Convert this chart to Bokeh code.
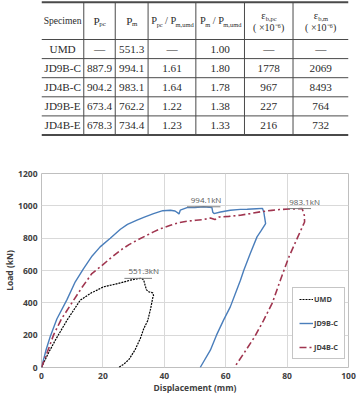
from bokeh.plotting import figure
from bokeh.models import Range1d, Legend, LegendItem, FixedTicker
from bokeh.layouts import column
from bokeh.core.properties import value
from bokeh.embed import file_html
from bokeh.resources import INLINE

# ---------------- table data ----------------
specimens = ["UMD", "JD9B-C", "JD4B-C", "JD9B-E", "JD4B-E"]
p_pc = ["—", "887.9", "904.2", "673.4", "678.3"]
p_m = [551.3, 994.1, 983.1, 762.2, 734.4]
ratio_pc = ["—", "1.61", "1.64", "1.22", "1.23"]
ratio_m = ["1.00", "1.80", "1.78", "1.38", "1.33"]
eps_pc = ["—", "1778", "967", "227", "216"]
eps_m = ["—", "2069", "8493", "764", "732"]

# ---------------- curve data (displacement mm, load kN) ----------------
umd_x = [0, 2.0, 4.5, 8.3, 12.6, 16.4, 17.2, 20.2, 25.7, 28.9, 31.0, 32.2, 32.8, 33.3, 33.8, 34.2,
         35.0, 36.2, 36.5, 36.3, 35.5, 34.6, 33.3, 32.2, 30.5, 28.5, 26.8, 25.1]
umd_y = [0, 80, 169, 292, 416, 464, 470, 499, 523, 540, 548, 551.3, 549, 540, 505, 480,
         468, 462, 445, 437, 360, 290, 240, 180, 110, 50, 20, 0]

jd9_x = [0, 1.5, 2.8, 5.0, 8.3, 11.0, 13.7, 16.5, 19.1, 22.4, 25.7, 28.0, 31.1, 33.5, 36.5, 39.5,
         42.0, 43.5, 44.5, 44.8, 45.2, 47.4, 50.0, 52.8, 55.5, 55.8, 56.2, 58.3, 61.5, 64.8, 67.0,
         70.0, 72.0, 72.4, 73.0, 71.5, 70.2, 68.0, 65.9, 64.8, 63.0, 61.5, 59.3, 57.0, 55.0, 51.7]
jd9_y = [0, 110, 189, 300, 420, 530, 612, 690, 746, 800, 855, 885, 911, 930, 952, 970,
         973, 968, 955, 950, 973, 989, 990, 994.1, 990, 960, 952, 962, 973, 978, 979,
         982, 984, 962, 890, 845, 808, 705, 602, 540, 450, 375, 293, 200, 107, 0]

jd4_x = [0, 2.0, 3.9, 6.5, 9.9, 13.0, 16.4, 19.0, 22.4, 25.7, 28.5, 31.1, 34.0, 36.5, 39.0, 42.0,
         45.0, 47.4, 50.3, 52.8, 55.0, 56.5, 57.9, 61.0, 64.8, 68.0, 72.0, 75.0, 77.5, 80.5, 84.9,
         85.6, 85.7, 83.5, 80.5, 77.8, 75.2, 72.3, 69.4, 66.0, 62.8]
jd4_y = [0, 100, 200, 300, 400, 490, 581, 620, 675, 725, 760, 787, 815, 839, 860, 880,
         897, 905, 911, 915, 925, 915, 931, 935, 942, 952, 965, 972, 977, 980, 983.1,
         942, 900, 808, 680, 540, 400, 290, 189, 90, 0]

peak_labels = ["551.3kN", "994.1kN", "983.1kN"]
peak_vals = p_m[:3]
peak_label_x = [33.3, 53.6, 85.7]
peak_line_x0 = [27.0, 47.4, 80.2]
peak_line_x1 = [36.0, 58.3, 87.8]

x_ticks = [0, 20, 40, 60, 80, 100]
y_ticks = [0, 200, 400, 600, 800, 1000, 1200]

# ---------------- table figure ----------------
W = 358
col_edges = [0, 49.3, 86, 124.3, 180, 236.7, 293.3, 358]
row_edges = [1.7, 39, 58.1, 77.2, 96.3, 115.4, 134.5]
SERIF = "Liberation Serif"
TXT = "#2b2b2b"
LINE = "#4a4a4a"
BODY = 11.2
NB = "\u00a0"

tbl = figure(width=W, height=140, x_range=Range1d(0, W), y_range=Range1d(140, 0),
             output_backend="svg", toolbar_location=None, min_border=0,
             x_axis_location=None, y_axis_location=None)
tbl.grid.visible = False
tbl.outline_line_color = None

hy = row_edges
hw = [2] + [1] * (len(row_edges) - 2) + [2]
tbl.segment(x0=[0] * len(hy), y0=hy, x1=[W] * len(hy), y1=hy, line_color=LINE, line_width=hw)
vx = col_edges[1:-1]
tbl.segment(x0=vx, y0=[row_edges[0]] * len(vx), x1=vx, y1=[row_edges[-1]] * len(vx),
            line_color=LINE, line_width=1)

centers = [(col_edges[i] + col_edges[i + 1]) / 2 for i in range(len(col_edges) - 1)]
row_c = [(row_edges[i] + row_edges[i + 1]) / 2 for i in range(1, len(row_edges) - 1)]

columns_data = [specimens, p_pc, [f"{v:.1f}" for v in p_m], ratio_pc, ratio_m, eps_pc, eps_m]
for j, colvals in enumerate(columns_data):
    tbl.text(x=[centers[j]] * len(colvals), y=row_c, text=colvals, text_align="center",
             text_baseline="middle", text_font=value(SERIF), text_font_size=f"{BODY}px",
             text_color=TXT)

CW = {'P': 0.61, 'p': 0.55, 'c': 0.49, 'm': 0.86, 'u': 0.55, 'd': 0.55, 'b': 0.55,
      ',': 0.28, '/': 0.31, ' ': 0.28, NB: 0.28, 'ε': 0.49}


def tw(s, fs):
    return sum(CW.get(ch, 0.55) for ch in s) * fs


def rich(cx, cy, parts, size=11.2):
    sub = size * 0.62
    total = sum(tw(t, size if k == "n" else sub) for t, k in parts)
    x = cx - total / 2
    for t, k in parts:
        fs = size if k == "n" else sub
        dy = 0 if k == "n" else 3.2
        tbl.text(x=[x], y=[cy + dy], text=[t], text_align="left", text_baseline="middle",
                 text_font=value(SERIF), text_font_size=f"{fs}px", text_color=TXT)
        x += tw(t, fs)


hc = (row_edges[0] + row_edges[1]) / 2
tbl.text(x=[centers[0]], y=[hc], text=["Specimen"], text_align="center", text_baseline="middle",
         text_font=value(SERIF), text_font_size="9.6px", text_color=TXT)
rich(centers[1], hc, [("P", "n"), ("pc", "s")])
rich(centers[2], hc, [("P", "n"), ("m", "s")])
rich(centers[3], hc, [("P", "n"), ("pc", "s"), (NB + "/" + NB + "P", "n"), ("m,umd", "s")], size=10.4)
rich(centers[4], hc, [("P", "n"), ("m", "s"), (NB + "/" + NB + "P", "n"), ("m,umd", "s")], size=10.4)
rich(centers[5], 15, [("ε", "n"), ("b,pc", "s")], size=10.5)
rich(centers[6], 15, [("ε", "n"), ("b,m", "s")], size=10.5)
tbl.text(x=[centers[5], centers[6]], y=[26.5, 26.5], text=["( ×10⁻⁶)", "( ×10⁻⁶)"],
         text_align="center", text_baseline="middle", text_font=value(SERIF),
         text_font_size="10px", text_color=TXT)

# ---------------- chart figure ----------------
FONT = "Open Sans"
ch = figure(width=W, height=256, x_range=Range1d(0, 100), y_range=Range1d(0, 1200),
            output_backend="svg", toolbar_location=None,
            min_border_left=41, min_border_right=10, min_border_top=33, min_border_bottom=29)
ch.xaxis.ticker = FixedTicker(ticks=x_ticks)
ch.yaxis.ticker = FixedTicker(ticks=y_ticks)
ch.xaxis.axis_label = "Displacement (mm)"
ch.yaxis.axis_label = "Load (kN)"
ch.axis.axis_line_color = None
ch.axis.major_tick_line_color = None
ch.axis.minor_tick_line_color = None
ch.axis.major_tick_out = 0
ch.axis.major_tick_in = 0
ch.axis.minor_tick_out = 0
ch.axis.minor_tick_in = 0
ch.axis.major_label_text_font = FONT
ch.axis.major_label_text_font_style = "bold"
ch.axis.major_label_text_font_size = "8.5px"
ch.axis.major_label_text_color = "#404040"
ch.axis.axis_label_text_font = FONT
ch.axis.axis_label_text_font_style = "bold"
ch.axis.axis_label_text_font_size = "8.5px"
ch.axis.axis_label_text_color = "#404040"
ch.xaxis.major_label_standoff = 5
ch.yaxis.major_label_standoff = 4
ch.axis.axis_label_standoff = 0
ch.grid.grid_line_color = "#D9D9D9"
ch.outline_line_color = "#BFBFBF"

r_umd = ch.line(umd_x, umd_y, line_color="black", line_width=1.2, line_dash="2 1")
r_jd9 = ch.line(jd9_x, jd9_y, line_color="#4A7EBB", line_width=1.4)
r_jd4 = ch.line(jd4_x, jd4_y, line_color="#A0354F", line_width=1.6, line_dash="7 3 2 3")

ch.segment(x0=peak_line_x0, y0=peak_vals, x1=peak_line_x1, y1=peak_vals,
           line_color="#7f7f7f", line_width=1)
ch.text(x=peak_label_x, y=peak_vals, text=peak_labels, text_align="center",
        text_baseline="bottom", y_offset=-2, text_font=value(FONT), text_font_size="8px",
        text_color="#595959")

legend = Legend(items=[LegendItem(label="UMD", renderers=[r_umd]),
                       LegendItem(label="JD9B-C", renderers=[r_jd9]),
                       LegendItem(label="JD4B-C", renderers=[r_jd4])],
                location=(251, 8), margin=0, padding=6, spacing=14,
                label_height=10, glyph_height=10, glyph_width=14, label_standoff=1,
                label_text_font=FONT, label_text_font_style="bold", label_text_font_size="7.3px",
                label_text_color="#404040", border_line_color="#8c8c8c",
                background_fill_color="white", background_fill_alpha=1)
ch.add_layout(legend)

layout = column(tbl, ch, spacing=0)
open("out.html", "w").write(file_html(layout, INLINE))
